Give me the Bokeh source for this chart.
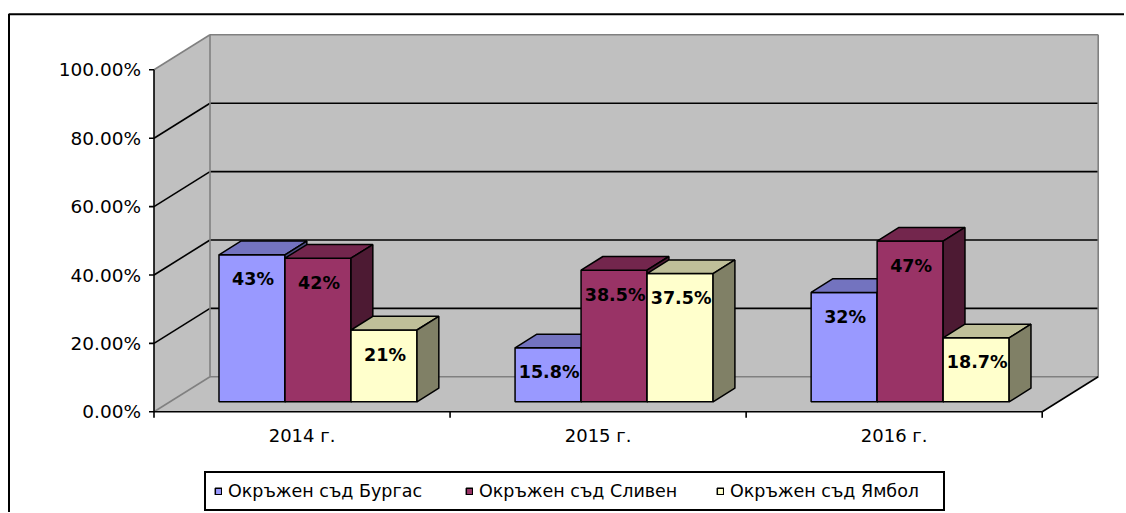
from bokeh.plotting import figure
from bokeh.models import Range1d, ColumnDataSource, Legend, LegendItem
from bokeh.core.properties import value
from bokeh.embed import file_html
from bokeh.resources import INLINE

# ---------------- data ----------------
categories = ["2014 г.", "2015 г.", "2016 г."]
series_names = ["Окръжен съд Бургас", "Окръжен съд Сливен", "Окръжен съд Ямбол"]
burgas = [43.0, 15.8, 32.0]
sliven = [42.0, 38.5, 47.0]
yambol = [21.0, 37.5, 18.7]
burgas_labels = ["43%", "15.8%", "32%"]
sliven_labels = ["42%", "38.5%", "47%"]
yambol_labels = ["21%", "37.5%", "18.7%"]
y_ticks = [0, 20, 40, 60, 80, 100]
y_tick_labels = ["0.00%", "20.00%", "40.00%", "60.00%", "80.00%", "100.00%"]

series_values = [burgas, sliven, yambol]
series_labels = [burgas_labels, sliven_labels, yambol_labels]

# ---------------- styles ----------------
front_colors = ["#9999FF", "#993366", "#FFFFCC"]
top_colors = ["#7373BF", "#73264D", "#BFBF99"]
side_colors = ["#4D4D80", "#4D1A33", "#808066"]
WALL = "#C0C0C0"
EDGE = "#808080"
FONT = value("DejaVu Sans")

# ---------------- layout (pixels) ----------------
W, H = 1124, 512
PXX = 296.07          # px per category on the front plane
PXY = 3.42            # px per percent on the front plane
X0_PX = 153.5         # frame x of category origin
Y0_PX = 411.3         # frame y (from top) of 0%


def px_x(px):
    return (px - X0_PX) / PXX


def px_y(py):
    return (Y0_PX - py) / PXY


def dx(px):
    return px / PXX


def dy(px):
    return px / PXY


NCAT = len(categories)
YMAX = y_ticks[-1]
DX, DY = dx(56), dy(35)          # full depth of the 3-D box
BW = dx(66)                      # bar width
T0 = 0.285                       # depth of bar front plane (fraction)
BD = 0.39                        # bar depth (fraction)

p = figure(width=W, height=H,
           x_range=Range1d(px_x(0), px_x(W)),
           y_range=Range1d(px_y(H), px_y(0)),
           output_backend="svg", toolbar_location=None,
           x_axis_type=None, y_axis_type=None,
           min_border=0, outline_line_color=None,
           background_fill_color="white", border_fill_color="white")
p.xgrid.visible = False
p.ygrid.visible = False

# chart-area border (top and left)
p.line(x=[px_x(8.5), px_x(8.5), px_x(W)], y=[px_y(H), px_y(13.7), px_y(13.7)],
       line_color="black", line_width=2)

# walls and floor
p.patches(xs=[[0, NCAT, NCAT + DX, DX],
              [0, DX, DX, 0],
              [DX, NCAT + DX, NCAT + DX, DX]],
          ys=[[0, 0, DY, DY],
              [0, DY, YMAX + DY, YMAX],
              [DY, DY, YMAX + DY, YMAX + DY]],
          fill_color=WALL, line_color=None)

# gridlines (black) on side and back walls
inner = y_ticks[1:-1]
p.segment(x0=[0] * len(inner), y0=inner,
          x1=[DX] * len(inner), y1=[v + DY for v in inner],
          line_color="black", line_width=1.6)
p.segment(x0=[DX] * len(inner), y0=[v + DY for v in inner],
          x1=[NCAT + DX] * len(inner), y1=[v + DY for v in inner],
          line_color="black", line_width=1.6)

# gray wall edges
p.segment(x0=[0, DX, DX, NCAT + DX, DX, 0],
          y0=[YMAX, YMAX + DY, DY, DY, DY, 0],
          x1=[DX, NCAT + DX, DX, NCAT + DX, NCAT + DX, DX],
          y1=[YMAX + DY, YMAX + DY, YMAX + DY, YMAX + DY, DY, DY],
          line_color=EDGE, line_width=1.6)

# black front axes
p.segment(x0=[0, 0, NCAT], y0=[0, 0, 0],
          x1=[0, NCAT, NCAT + DX], y1=[YMAX, 0, DY],
          line_color="black", line_width=1.6)

# y ticks and labels
p.segment(x0=[-dx(5)] * len(y_ticks), y0=y_ticks,
          x1=[0] * len(y_ticks), y1=y_ticks,
          line_color="black", line_width=1.6)
p.text(x=[-dx(13)] * len(y_ticks), y=y_ticks, text=y_tick_labels,
       text_font=FONT, text_font_size="18.5px", text_color="black",
       text_align="right", text_baseline="middle")

# x ticks and labels
bounds = list(range(NCAT + 1))
p.segment(x0=bounds, y0=[0] * len(bounds), x1=bounds, y1=[-dy(6)] * len(bounds),
          line_color="black", line_width=1.6)
p.text(x=[i + 0.5 for i in range(NCAT)], y=[-dy(24)] * NCAT, text=categories,
       text_font=FONT, text_font_size="18px", text_color="black",
       text_align="center", text_baseline="middle")

# bars
legend_items = []
label_x, label_y, label_t = [], [], []
for s, vals in enumerate(series_values):
    lefts = [i + 0.5 - 1.5 * BW + s * BW + T0 * DX for i in range(NCAT)]
    rights = [l + BW for l in lefts]
    base = T0 * DY
    tops = [v + base for v in vals]
    src = ColumnDataSource(dict(left=lefts, right=rights,
                                bottom=[base] * NCAT, top=tops))
    r = p.quad(left="left", right="right", bottom="bottom", top="top", source=src,
               fill_color=front_colors[s], line_color="black", line_width=1.5)
    legend_items.append(LegendItem(label=series_names[s], renderers=[r]))
    ddx, ddy = BD * DX, BD * DY
    p.patches(xs=[[l, rr, rr + ddx, l + ddx] for l, rr in zip(lefts, rights)],
              ys=[[t, t, t + ddy, t + ddy] for t in tops],
              fill_color=top_colors[s], line_color="black", line_width=1.5)
    p.patches(xs=[[rr, rr + ddx, rr + ddx, rr] for rr in rights],
              ys=[[base, base + ddy, t + ddy, t] for t in tops],
              fill_color=side_colors[s], line_color="black", line_width=1.5)
    for i in range(NCAT):
        label_x.append((lefts[i] + rights[i]) / 2 + dx(1))
        label_y.append(tops[i] - dy(24.5))
        label_t.append(series_labels[s][i])

p.text(x=label_x, y=label_y, text=label_t,
       text_font=FONT, text_font_size="17.5px", text_font_style="bold",
       text_color="black", text_align="center", text_baseline="middle")

legend = Legend(items=legend_items, orientation="horizontal",
                location=(204, H - 511),
                glyph_width=8, glyph_height=8, label_standoff=6,
                label_width=205, label_height=20, spacing=32, padding=8, margin=0,
                label_text_font="DejaVu Sans", label_text_font_size="17.5px",
                label_text_color="black",
                border_line_color="black", border_line_width=2,
                border_line_alpha=1.0,
                background_fill_color="white", background_fill_alpha=1.0)
p.add_layout(legend)

open("out.html", "w").write(file_html(p, INLINE))
